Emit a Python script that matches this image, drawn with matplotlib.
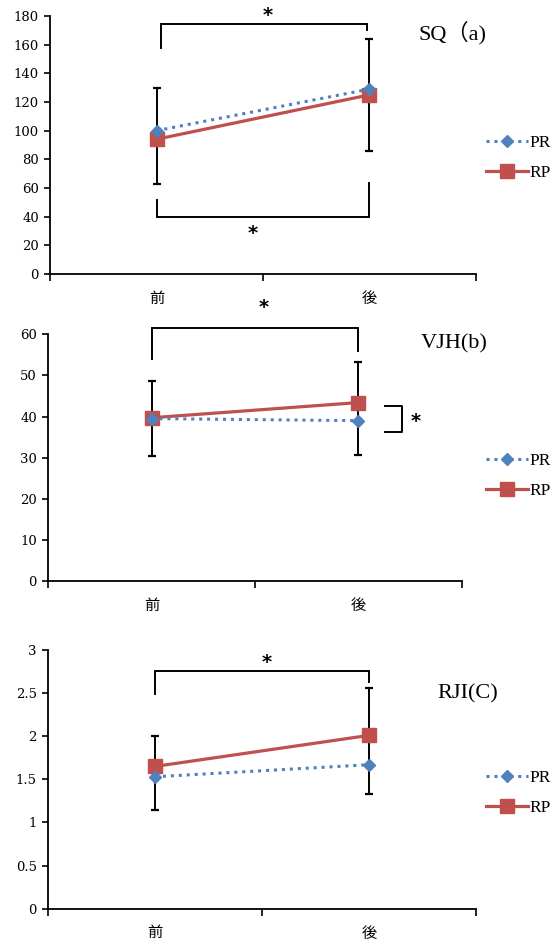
import numpy as np
import matplotlib.pyplot as plt
from matplotlib.lines import Line2D

plt.rcParams['font.family'] = ['Liberation Serif', 'Noto Sans CJK JP']

cats = ['前', '後']
pos = np.array([1, 2])

# SQ (a)
sq_pr = [100, 129]
sq_rp = [94, 125]
sq_top = [130, 164]
sq_bot = [63, 86]

# VJH (b)
vjh_pr = [39.5, 39.0]
vjh_rp = [39.7, 43.4]
vjh_top = [48.7, 53.3]
vjh_bot = [30.4, 30.6]

# RJI (C)
rji_pr = [1.53, 1.67]
rji_rp = [1.65, 2.01]
rji_top = [2.0, 2.56]
rji_bot = [1.15, 1.33]

blue = '#4F81BD'
red = '#C0504D'

fig = plt.figure(figsize=(5.52, 9.43), dpi=100)

def panel(rect, pr, rp, top, bot, ymax, ystep, yfmt, title, title_xy, leg_y):
    ax = fig.add_axes(rect)
    mid = np.array(pr)
    ax.errorbar(pos, mid, yerr=[mid - np.array(bot), np.array(top) - mid],
                fmt='none', ecolor='black', elinewidth=1.4, capsize=3,
                capthick=1.6, zorder=2)
    ax.plot(pos, pr, color=blue, ls=(0, (1, 1.6)), lw=2.2, marker='D',
            ms=6, zorder=4)
    ax.plot(pos, rp, color=red, ls='-', lw=2.3, marker='s', ms=9.5, zorder=3)
    ax.set_xlim(0.5, 2.5)
    ax.set_ylim(0, ymax)
    yt = np.arange(0, ymax + ystep / 2, ystep)
    ax.set_yticks(yt)
    ax.set_yticklabels([yfmt(v) for v in yt], fontsize=9.5, family='DejaVu Serif')
    ax.set_xticks([0.5, 1.5, 2.5])
    ax.set_xticklabels([])
    ax.set_xticks(pos, minor=True)
    ax.set_xticklabels(cats, minor=True, fontsize=11)
    ax.tick_params(axis='x', which='major', direction='out', length=5, width=1.2)
    ax.tick_params(axis='x', which='minor', length=0, pad=13)
    ax.tick_params(axis='y', direction='out', length=4, width=1.2, pad=4)
    for s in ['top', 'right']:
        ax.spines[s].set_visible(False)
    for s in ['left', 'bottom']:
        ax.spines[s].set_linewidth(1.3)
    ax.text(title_xy[0], title_xy[1], title, transform=fig.transFigure,
            fontsize=16, va='center', ha='left')
    handles = [Line2D([], [], color=blue, ls=(0, (1, 1.6)), lw=2.2, marker='D', ms=6),
               Line2D([], [], color=red, ls='-', lw=2.3, marker='s', ms=9.5)]
    fig.legend(handles, ['PR', 'RP'], loc='center left',
               bbox_to_anchor=(486 / 552, leg_y), frameon=False, fontsize=12.5,
               handlelength=2.4, handletextpad=0.1, labelspacing=0.8,
               borderaxespad=0, borderpad=0)
    return ax

def bracket(ax, x0, x1, y, y0, y1):
    ax.plot([x0, x0, x1, x1], [y0, y, y, y1], color='black', lw=1.4,
            clip_on=False, solid_joinstyle='miter')

def star(ax, x, y):
    ax.text(x, y, '*', fontsize=14, fontweight='bold', ha='center',
            va='center', family='DejaVu Sans', clip_on=False)

H = 943.0
W = 552.0

ax1 = panel([50 / W, 1 - 274 / H, 426 / W, 258 / H], sq_pr, sq_rp, sq_top, sq_bot,
            180, 20, lambda v: '%d' % v, 'SQ（a)', (419 / W, 1 - 33 / H), 1 - 158 / H)
bracket(ax1, 1.02, 1.99, 174.6, 157.5, 170)
star(ax1, 1.52, 180)
bracket(ax1, 1.0, 2.0, 40, 51.6, 63.7)
star(ax1, 1.45, 28)

ax2 = panel([48 / W, 1 - 581 / H, 414 / W, 246.7 / H], vjh_pr, vjh_rp, vjh_top, vjh_bot,
            60, 10, lambda v: '%d' % v, 'VJH(b)', (421 / W, 1 - 344 / H), 1 - 476 / H)
bracket(ax2, 1.0, 2.0, 61.5, 53.9, 56)
star(ax2, 1.54, 66.5)
ax2.plot([2.126, 2.208, 2.208, 2.126], [42.6, 42.6, 36.2, 36.2], color='black',
         lw=1.4, clip_on=False)
star(ax2, 2.275, 38.8)

ax3 = panel([48 / W, 1 - 908.7 / H, 428 / W, 258.7 / H], rji_pr, rji_rp, rji_top, rji_bot,
            3, 0.5, lambda v: ('%g' % v), 'RJI(C)', (437 / W, 1 - 694 / H), 1 - 793 / H)
bracket(ax3, 1.0, 2.0, 2.76, 2.49, 2.63)
star(ax3, 1.52, 2.86)

fig.savefig('out.png', dpi=100)
